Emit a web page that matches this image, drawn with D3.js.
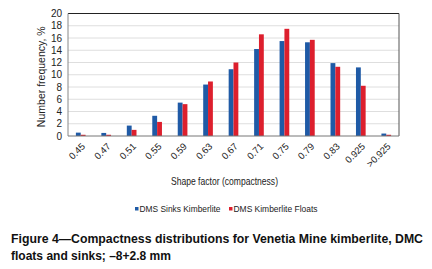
<!DOCTYPE html>
<html>
<head>
<meta charset="utf-8">
<script src="https://cdn.jsdelivr.net/npm/d3@7"></script>
<style>
  html, body { margin: 0; padding: 0; background: #fff; }
  text { font-family: "Liberation Sans", Arial, sans-serif; }
  .narrow { font-family: "Liberation Sans Narrow", "Arial Narrow", "Liberation Sans", sans-serif; }
</style>
</head>
<body>
<script>
const categories = ["0.45", "0.47", "0.51", "0.55", "0.59", "0.63", "0.67", "0.71", "0.75", "0.79", "0.83", "0.925", ">0.925"];
const sinks = [0.55, 0.5, 1.7, 3.3, 5.45, 8.4, 10.9, 14.2, 15.5, 15.3, 11.9, 11.2, 0.4];
const floats = [0.2, 0.2, 1.0, 2.3, 5.2, 8.9, 12.0, 16.6, 17.5, 15.7, 11.3, 8.2, 0.2];
const seriesNames = ["DMS Sinks Kimberlite", "DMS Kimberlite Floats"];
const yTicks = [0, 2, 4, 6, 8, 10, 12, 14, 16, 18, 20];

const width = 432, height = 269;
const colors = ["#1f5aa6", "#dd1f2d"];
const plot = { left: 68, right: 399, top: 13.5, bottom: 136 };

const svg = d3.select("body").append("svg")
  .attr("width", width)
  .attr("height", height);

const x = d3.scaleBand()
  .domain(categories)
  .range([plot.left, plot.right])
  .paddingInner(0.62)
  .paddingOuter(0.31);

const xs = d3.scaleBand()
  .domain([0, 1])
  .range([0, x.bandwidth()]);

const y = d3.scaleLinear()
  .domain([0, 20])
  .range([plot.bottom, plot.top]);

// gridlines
svg.append("g")
  .selectAll("line")
  .data(yTicks.slice(1, -1))
  .join("line")
  .attr("x1", plot.left)
  .attr("x2", plot.right)
  .attr("y1", d => y(d))
  .attr("y2", d => y(d))
  .attr("stroke", "#dedede")
  .attr("stroke-width", 1);

// bars
const table = categories.map((c, i) => ({ cat: c, vals: [sinks[i], floats[i]] }));
const groups = svg.append("g")
  .selectAll("g")
  .data(table)
  .join("g")
  .attr("transform", d => `translate(${x(d.cat)},0)`);

groups.selectAll("rect")
  .data(d => d.vals)
  .join("rect")
  .attr("x", (d, i) => xs(i))
  .attr("width", xs.bandwidth())
  .attr("y", d => y(d))
  .attr("height", d => y(0) - y(d))
  .attr("fill", (d, i) => colors[i]);

// frame
svg.append("line")
  .attr("x1", plot.left).attr("x2", plot.right)
  .attr("y1", plot.top).attr("y2", plot.top)
  .attr("stroke", "#222").attr("stroke-width", 1.2);
svg.append("line")
  .attr("x1", plot.right).attr("x2", plot.right)
  .attr("y1", plot.top).attr("y2", plot.bottom)
  .attr("stroke", "#555").attr("stroke-width", 1);
svg.append("line")
  .attr("x1", plot.left).attr("x2", plot.left)
  .attr("y1", plot.top).attr("y2", plot.bottom)
  .attr("stroke", "#888").attr("stroke-width", 1);
svg.append("line")
  .attr("x1", plot.left).attr("x2", plot.right)
  .attr("y1", plot.bottom).attr("y2", plot.bottom)
  .attr("stroke", "#777").attr("stroke-width", 1);

// y axis labels
svg.append("g")
  .selectAll("text")
  .data(yTicks)
  .join("text")
  .attr("x", 62)
  .attr("y", d => y(d))
  .attr("dy", "0.35em")
  .attr("text-anchor", "end")
  .attr("font-size", 10)
  .attr("fill", "#222")
  .text(d => d);

svg.append("text")
  .attr("transform", `translate(45, ${(plot.top + plot.bottom) / 2 + 2}) rotate(-90)`)
  .attr("text-anchor", "middle")
  .attr("font-size", 10.5)
  .attr("fill", "#222")
  .text("Number frequency, %");

// x axis labels
svg.append("g")
  .selectAll("text")
  .data(categories)
  .join("text")
  .attr("transform", d => `translate(${x(d) + x.bandwidth() / 2 + 1}, 143) rotate(-45)`)
  .attr("text-anchor", "end")
  .attr("dy", "0.6em")
  .attr("font-size", 9.5)
  .attr("fill", "#222")
  .text(d => d);

svg.append("text")
  .attr("class", "narrow")
  .attr("x", 224.5)
  .attr("y", 185)
  .attr("text-anchor", "middle")
  .attr("font-size", 11)
  .attr("fill", "#222")
  .attr("textLength", 107)
  .attr("lengthAdjust", "spacingAndGlyphs")
  .text("Shape factor (compactness)");

// legend
const legendX = [135, 229];
const legendW = [81, 84];
const legend = svg.append("g")
  .selectAll("g")
  .data(seriesNames)
  .join("g")
  .attr("transform", (d, i) => `translate(${legendX[i]}, 209)`);
legend.append("rect")
  .attr("x", 0).attr("y", -2)
  .attr("width", 3.5).attr("height", 3.5)
  .attr("fill", (d, i) => colors[i]);
legend.append("text")
  .attr("class", "narrow")
  .attr("x", 4.5)
  .attr("dy", "0.35em")
  .attr("font-size", 9)
  .attr("fill", "#222")
  .attr("textLength", (d, i) => legendW[i])
  .attr("lengthAdjust", "spacingAndGlyphs")
  .text(d => d);

// caption
svg.append("text")
  .attr("x", 11).attr("y", 243)
  .attr("font-size", 12.5)
  .attr("font-weight", "bold")
  .attr("fill", "#111")
  .attr("textLength", 412)
  .attr("lengthAdjust", "spacingAndGlyphs")
  .text("Figure 4\u2014Compactness distributions for Venetia Mine kimberlite, DMC");
svg.append("text")
  .attr("x", 11).attr("y", 260)
  .attr("font-size", 12.5)
  .attr("font-weight", "bold")
  .attr("fill", "#111")
  .attr("textLength", 160)
  .attr("lengthAdjust", "spacingAndGlyphs")
  .text("floats and sinks; \u20138+2.8 mm");
</script>
</body>
</html>
